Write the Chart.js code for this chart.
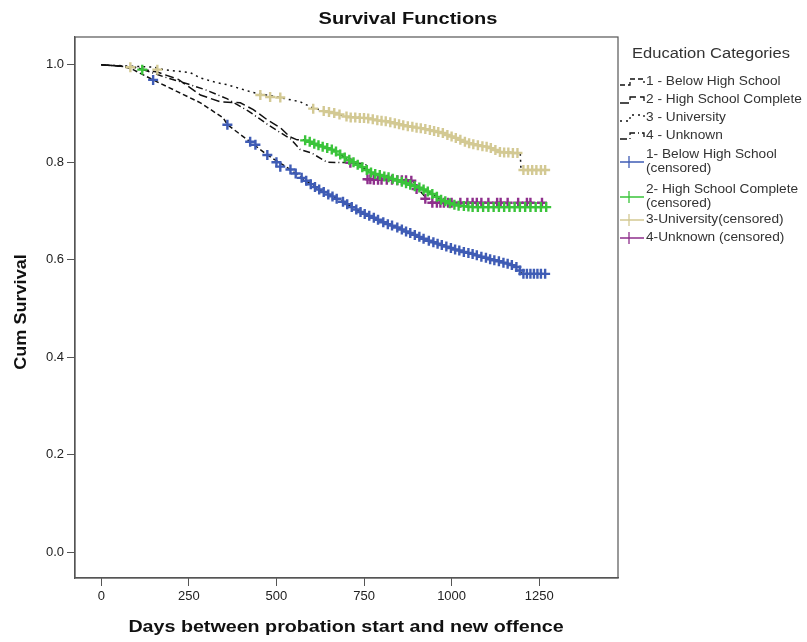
<!DOCTYPE html>
<html>
<head>
<meta charset="utf-8">
<title>Survival Functions</title>
<script src="https://cdn.jsdelivr.net/npm/chart.js@4.4.1/dist/chart.umd.min.js"></script>
<style>
  body { margin: 0; background: #fff; }
  canvas { display: block; }
</style>
</head>
<body>
<canvas id="survChart" width="807" height="642"></canvas>
<script>
// Kaplan-Meier estimates per education group (days, cumulative survival)
const belowHsDays = [0, 60, 91, 148, 217, 283, 348, 360, 425, 474, 531, 568, 628, 685, 745, 802, 862, 919, 979, 1036, 1096, 1153, 1187, 1201, 1267];
const belowHsSurv = [1.0, 0.997, 0.99, 0.969, 0.945, 0.922, 0.891, 0.877, 0.842, 0.815, 0.789, 0.770, 0.741, 0.721, 0.696, 0.678, 0.661, 0.643, 0.628, 0.616, 0.604, 0.593, 0.585, 0.571, 0.571];

const hsDays = [0, 90, 160, 220, 283, 340, 397, 434, 474, 511, 539, 559, 576, 662, 716, 773, 833, 890, 930, 970, 1010, 1059, 1270];
const hsSurv = [1.0, 0.995, 0.985, 0.97, 0.938, 0.924, 0.922, 0.908, 0.887, 0.871, 0.852, 0.846, 0.846, 0.825, 0.801, 0.778, 0.766, 0.752, 0.741, 0.723, 0.713, 0.708, 0.708];

const uniDays = [0, 150, 177, 254, 283, 331, 360, 434, 502, 568, 605, 654, 702, 759, 816, 853, 902, 967, 1005, 1045, 1102, 1139, 1196, 1198, 1267];
const uniSurv = [1.0, 0.995, 0.99, 0.984, 0.973, 0.963, 0.959, 0.943, 0.934, 0.924, 0.911, 0.903, 0.893, 0.891, 0.883, 0.877, 0.871, 0.862, 0.852, 0.840, 0.832, 0.821, 0.819, 0.784, 0.784];

const unkDays = [0, 100, 180, 250, 300, 360, 420, 480, 540, 568, 600, 645, 711, 755, 760, 890, 905, 930, 945, 1265];
const unkSurv = [1.0, 0.995, 0.975, 0.96, 0.948, 0.93, 0.905, 0.875, 0.848, 0.826, 0.819, 0.80, 0.799, 0.797, 0.765, 0.762, 0.745, 0.725, 0.717, 0.717];

// censored cases
const belowHsCensDays = [148, 360, 425, 440, 474, 500, 511, 540, 555, 572, 585, 598, 610, 622, 635, 648, 660, 672, 690, 702, 715, 728, 740, 752, 765, 778, 790, 805, 818, 830, 845, 858, 870, 882, 895, 908, 920, 935, 948, 960, 972, 985, 998, 1010, 1022, 1035, 1048, 1060, 1072, 1085, 1098, 1110, 1122, 1135, 1148, 1160, 1172, 1185, 1195, 1205, 1215, 1225, 1235, 1245, 1255, 1267];
const belowHsCensSurv = [0.969, 0.877, 0.842, 0.836, 0.815, 0.800, 0.791, 0.785, 0.777, 0.768, 0.762, 0.755, 0.749, 0.744, 0.739, 0.734, 0.730, 0.725, 0.719, 0.714, 0.708, 0.703, 0.698, 0.694, 0.690, 0.686, 0.682, 0.677, 0.673, 0.670, 0.666, 0.662, 0.658, 0.655, 0.651, 0.647, 0.643, 0.639, 0.636, 0.633, 0.630, 0.627, 0.624, 0.621, 0.619, 0.616, 0.614, 0.612, 0.609, 0.606, 0.604, 0.601, 0.599, 0.597, 0.594, 0.592, 0.589, 0.585, 0.578, 0.571, 0.571, 0.571, 0.571, 0.571, 0.571, 0.571];

const hsCensDays = [117, 582, 595, 608, 620, 632, 645, 658, 670, 682, 695, 708, 720, 732, 745, 758, 770, 782, 795, 808, 820, 832, 845, 858, 870, 882, 895, 908, 920, 932, 945, 958, 970, 982, 995, 1008, 1020, 1035, 1048, 1060, 1075, 1090, 1105, 1120, 1135, 1150, 1165, 1180, 1195, 1210, 1225, 1240, 1255, 1270];
const hsCensSurv = [0.99, 0.845, 0.842, 0.838, 0.835, 0.832, 0.829, 0.826, 0.822, 0.816, 0.810, 0.805, 0.800, 0.795, 0.790, 0.784, 0.779, 0.776, 0.774, 0.771, 0.769, 0.766, 0.763, 0.760, 0.757, 0.754, 0.751, 0.748, 0.744, 0.740, 0.735, 0.729, 0.723, 0.720, 0.716, 0.713, 0.711, 0.710, 0.709, 0.708, 0.708, 0.708, 0.708, 0.708, 0.708, 0.708, 0.708, 0.708, 0.708, 0.708, 0.708, 0.708, 0.708, 0.708];

const uniCensDays = [83, 160, 454, 482, 511, 605, 635, 650, 665, 680, 700, 712, 725, 738, 750, 762, 775, 788, 800, 812, 825, 838, 850, 862, 875, 888, 900, 912, 925, 938, 950, 962, 975, 988, 1000, 1012, 1025, 1038, 1050, 1062, 1075, 1088, 1100, 1112, 1125, 1138, 1150, 1162, 1175, 1188, 1205, 1218, 1230, 1242, 1255, 1267];
const uniCensSurv = [0.995, 0.99, 0.938, 0.934, 0.933, 0.910, 0.905, 0.903, 0.901, 0.898, 0.894, 0.892, 0.892, 0.891, 0.891, 0.890, 0.888, 0.886, 0.885, 0.884, 0.882, 0.880, 0.878, 0.876, 0.874, 0.873, 0.871, 0.870, 0.868, 0.866, 0.864, 0.862, 0.860, 0.856, 0.853, 0.850, 0.846, 0.842, 0.839, 0.837, 0.835, 0.833, 0.832, 0.829, 0.825, 0.821, 0.820, 0.820, 0.819, 0.819, 0.784, 0.784, 0.784, 0.784, 0.784, 0.784];

const unkCensDays = [711, 760, 768, 778, 790, 800, 815, 830, 845, 858, 870, 885, 900, 925, 945, 958, 968, 978, 990, 1000, 1025, 1045, 1060, 1072, 1085, 1105, 1130, 1140, 1160, 1190, 1215, 1225, 1258];
const unkCensSurv = [0.799, 0.765, 0.765, 0.764, 0.764, 0.764, 0.764, 0.764, 0.763, 0.763, 0.763, 0.762, 0.745, 0.725, 0.717, 0.717, 0.717, 0.717, 0.717, 0.717, 0.717, 0.717, 0.717, 0.717, 0.717, 0.717, 0.717, 0.717, 0.717, 0.717, 0.717, 0.717, 0.717];

const xTickValues = [0, 250, 500, 750, 1000, 1250];
const yTickValues = [0, 0.2, 0.4, 0.6, 0.8, 1.0];

const groupLabels = ['1 - Below High School', '2 - High School Complete', '3 - University', '4 - Unknown'];
const censLabels = [['1- Below High School', '(censored)'], ['2- High School Complete', '(censored)'], ['3-University(censored)'], ['4-Unknown (censored)']];

const dashes = [[5, 3], [9, 4], [2, 4], [7, 3, 1, 3]];
const censColors = ['#3f5cb5', '#3ac43a', '#d3c993', '#8e2f8c'];

const toPoints = (xs, ys) => xs.map((x, i) => ({ x: x, y: ys[i] }));

const curves = [
  toPoints(belowHsDays, belowHsSurv),
  toPoints(hsDays, hsSurv),
  toPoints(uniDays, uniSurv),
  toPoints(unkDays, unkSurv)
];
const censored = [
  toPoints(belowHsCensDays, belowHsCensSurv),
  toPoints(hsCensDays, hsCensSurv),
  toPoints(uniCensDays, uniCensSurv),
  toPoints(unkCensDays, unkCensSurv)
];

const datasets = [];
curves.forEach((pts, i) => {
  datasets.push({
    type: 'line',
    label: groupLabels[i],
    data: pts,
    borderColor: '#111',
    borderWidth: 1.5,
    borderDash: dashes[i],
    pointRadius: 0,
    fill: false,
    tension: 0,
    order: 2
  });
});
censored.forEach((pts, i) => {
  datasets.push({
    type: 'scatter',
    label: censLabels[i].join(' '),
    data: pts,
    pointStyle: 'cross',
    pointRadius: 5,
    borderColor: censColors[i],
    backgroundColor: censColors[i],
    borderWidth: 2.4,
    order: 1
  });
});

// text drawn a little wider than the font, like the SPSS output
function wideText(ctx, text, x, y, font, sx, align) {
  ctx.save();
  ctx.font = font;
  ctx.textBaseline = 'middle';
  ctx.textAlign = 'left';
  const w = ctx.measureText(text).width * sx;
  let left = x;
  if (align === 'center') left = x - w / 2;
  ctx.translate(left, y);
  ctx.scale(sx, 1);
  ctx.fillText(text, 0, 0);
  ctx.restore();
}

const decorations = {
  id: 'decorations',
  afterDraw(chart) {
    const ctx = chart.ctx;
    const area = chart.chartArea;

    // plot frame
    ctx.save();
    ctx.strokeStyle = '#555';
    ctx.lineWidth = 1.2;
    ctx.strokeRect(area.left, area.top, area.right - area.left, area.bottom - area.top);
    ctx.restore();

    ctx.fillStyle = '#111';
    wideText(ctx, 'Survival Functions', 408, 20, 'bold 16px "Liberation Sans", Arial, sans-serif', 1.25, 'center');
    wideText(ctx, 'Days between probation start and new offence', 346, 628, 'bold 16px "Liberation Sans", Arial, sans-serif', 1.23, 'center');

    ctx.save();
    ctx.translate(22, 312);
    ctx.rotate(-Math.PI / 2);
    wideText(ctx, 'Cum Survival', 0, 0, 'bold 16px "Liberation Sans", Arial, sans-serif', 1.13, 'center');
    ctx.restore();

    // legend
    const legFont = '12px "Liberation Sans", Arial, sans-serif';
    ctx.fillStyle = '#333';
    wideText(ctx, 'Education Categories', 632, 54, '14px "Liberation Sans", Arial, sans-serif', 1.18, 'left');

    const lineRows = [82, 100, 118, 136];
    lineRows.forEach((y, i) => {
      ctx.save();
      ctx.strokeStyle = '#111';
      ctx.lineWidth = 1.3;
      ctx.setLineDash(dashes[i]);
      ctx.beginPath();
      ctx.moveTo(620, y + 3);
      ctx.lineTo(630, y + 3);
      ctx.lineTo(630, y - 3);
      ctx.lineTo(644, y - 3);
      ctx.lineTo(644, y + 1);
      ctx.stroke();
      ctx.restore();
      ctx.fillStyle = '#333';
      wideText(ctx, groupLabels[i], 646, y, legFont, 1.14, 'left');
    });

    const censRows = [[155, 169], [190, 204], [220], [238]];
    censRows.forEach((rows, i) => {
      const cy = (rows[0] + rows[rows.length - 1]) / 2;
      ctx.save();
      ctx.strokeStyle = censColors[i];
      ctx.lineWidth = 1.3;
      ctx.beginPath();
      ctx.moveTo(620, cy);
      ctx.lineTo(644, cy);
      ctx.moveTo(629, cy - 6);
      ctx.lineTo(629, cy + 6);
      ctx.stroke();
      ctx.restore();
      ctx.fillStyle = '#333';
      rows.forEach((y, k) => wideText(ctx, censLabels[i][k], 646, y, legFont, 1.14, 'left'));
    });
  }
};

const ctx = document.getElementById('survChart').getContext('2d');
new Chart(ctx, {
  data: { datasets },
  options: {
    responsive: false,
    animation: false,
    events: [],
    layout: { padding: { top: 37, right: 189, bottom: 0, left: 0 } },
    plugins: {
      legend: { display: false },
      tooltip: { enabled: false },
      title: { display: false }
    },
    scales: {
      x: {
        type: 'linear',
        min: -75,
        max: 1475,
        afterBuildTicks: scale => { scale.ticks = xTickValues.map(v => ({ value: v })); },
        afterFit: scale => { scale.height = 64; },
        grid: { drawOnChartArea: false, drawTicks: true, tickLength: 8, color: '#555' },
        border: { color: '#555', width: 1.2 },
        ticks: {
          color: '#222',
          padding: 3,
          maxRotation: 0,
          font: { family: '"Liberation Sans", Arial, sans-serif', size: 13 },
          callback: v => String(v)
        }
      },
      y: {
        type: 'linear',
        min: -0.053,
        max: 1.057,
        afterBuildTicks: scale => { scale.ticks = yTickValues.map(v => ({ value: v })); },
        afterFit: scale => { scale.width = 75; },
        grid: { drawOnChartArea: false, drawTicks: true, tickLength: 8, color: '#555' },
        border: { color: '#555', width: 1.2 },
        ticks: {
          color: '#222',
          padding: 3,
          font: { family: '"Liberation Sans", Arial, sans-serif', size: 13 },
          callback: v => v.toFixed(1)
        }
      }
    }
  },
  plugins: [decorations]
});
</script>
</body>
</html>
